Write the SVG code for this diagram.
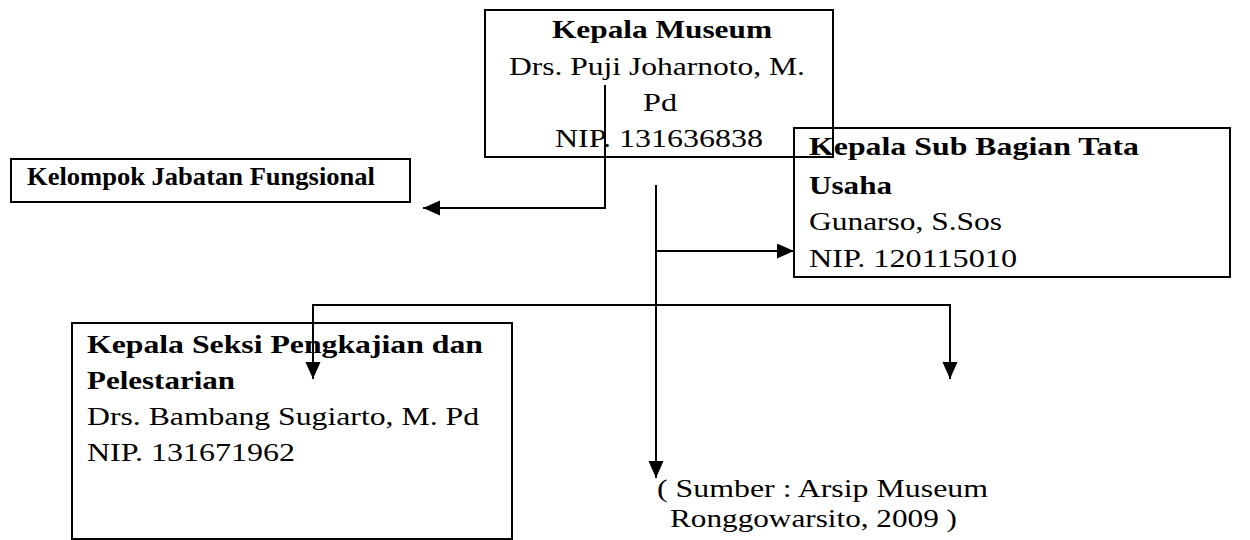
<svg xmlns="http://www.w3.org/2000/svg" width="1250" height="540" viewBox="0 0 1250 540">
<style>
.box{fill:none;stroke:#000;stroke-width:2}
.t{font-family:'Liberation Serif','Times New Roman',serif;font-size:26px;fill:#000}
.b{font-weight:bold}
.c{fill:none;stroke:#000;stroke-width:2}
</style>
<defs>
<marker id="ah" markerUnits="userSpaceOnUse" markerWidth="18" markerHeight="16" refX="17" refY="7.5" orient="auto">
<path d="M0,0 L17,7.5 L0,15 Z" fill="#000"/>
</marker>
</defs>
<rect width="1250" height="540" fill="#fff"/>
<g id="kepala-museum">
<rect class="box" x="485" y="10" width="348" height="147"/>
<text class="t b" x="662" y="38" text-anchor="middle" textLength="220" lengthAdjust="spacingAndGlyphs">Kepala Museum</text>
<text class="t" x="657" y="75" text-anchor="middle" textLength="296" lengthAdjust="spacingAndGlyphs">Drs. Puji Joharnoto, M.</text>
<text class="t" x="660" y="111" text-anchor="middle" textLength="34" lengthAdjust="spacingAndGlyphs">Pd</text>
<text class="t" x="659" y="147" text-anchor="middle" textLength="208" lengthAdjust="spacingAndGlyphs">NIP. 131636838</text>
</g>
<g id="kelompok">
<rect class="box" x="11" y="159" width="399" height="43"/>
<text class="t b" x="27" y="185" font-size="25" textLength="348" lengthAdjust="spacingAndGlyphs">Kelompok Jabatan Fungsional</text>
</g>
<g id="sub-bagian">
<rect class="box" x="794" y="128" width="436" height="149"/>
<text class="t b" x="809" y="155" textLength="330" lengthAdjust="spacingAndGlyphs">Kepala Sub Bagian Tata</text>
<text class="t b" x="809" y="194" textLength="83" lengthAdjust="spacingAndGlyphs">Usaha</text>
<text class="t" x="809" y="230" textLength="193" lengthAdjust="spacingAndGlyphs">Gunarso, S.Sos</text>
<text class="t" x="809" y="267" textLength="208" lengthAdjust="spacingAndGlyphs">NIP. 120115010</text>
</g>
<g id="seksi">
<rect class="box" x="72" y="323" width="440" height="216"/>
<text class="t b" x="87" y="353" textLength="396" lengthAdjust="spacingAndGlyphs">Kepala Seksi Pengkajian dan</text>
<text class="t b" x="87" y="389" textLength="148" lengthAdjust="spacingAndGlyphs">Pelestarian</text>
<text class="t" x="87" y="425" textLength="392" lengthAdjust="spacingAndGlyphs">Drs. Bambang Sugiarto, M. Pd</text>
<text class="t" x="87" y="461" textLength="208" lengthAdjust="spacingAndGlyphs">NIP. 131671962</text>
</g>
<g id="sumber">
<text class="t" x="657" y="497" textLength="331" lengthAdjust="spacingAndGlyphs">( Sumber : Arsip Museum</text>
<text class="t" x="670" y="527" textLength="287" lengthAdjust="spacingAndGlyphs">Ronggowarsito, 2009 )</text>
</g>
<g id="connectors">
<path class="c" d="M605,85 V208 H423" marker-end="url(#ah)"/>
<path class="c" d="M656,185 V478" marker-end="url(#ah)"/>
<path class="c" d="M656,251 H794" marker-end="url(#ah)"/>
<path class="c" d="M313,379 V305 H950 V379" />
<path class="c" d="M313,306 V379" marker-end="url(#ah)"/>
<path class="c" d="M950,306 V379" marker-end="url(#ah)"/>
</g>
</svg>
